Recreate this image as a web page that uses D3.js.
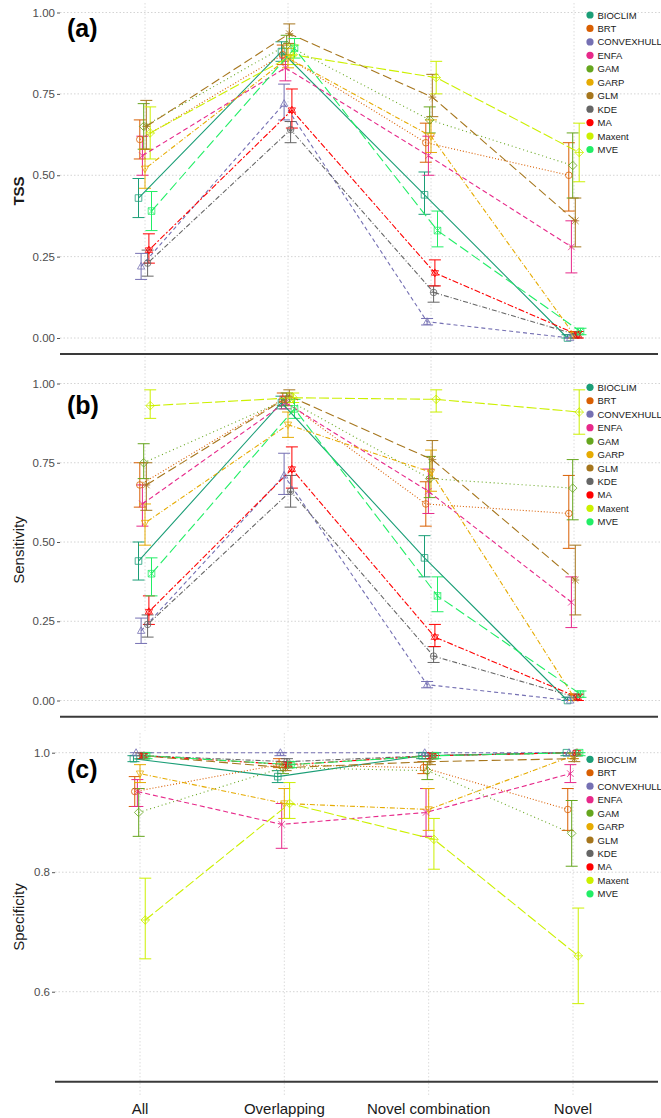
<!DOCTYPE html>
<html><head><meta charset="utf-8">
<script src="https://cdn.jsdelivr.net/npm/d3@7"></script>
<style>body{margin:0;background:#fff}svg{display:block}</style>
</head><body>
<svg id="chart" width="661" height="1118"></svg>
<script>
// ---------- data ----------
const categories = ["All", "Overlapping", "Novel combination", "Novel"];
const methods = ["BIOCLIM","BRT","CONVEXHULL","ENFA","GAM","GARP","GLM","KDE","MA","Maxent","MVE"];
const methodColors = ["#1B9E77","#D95F02","#7570B3","#E7298A","#66A61E","#E6AB02","#A6761D","#666666","#FF0000","#CCF000","#22EE66"];
const methodDash = ["", "1,2", "4,3", "5,3", "1,3", "1,2,5,2", "9,4", "1,2,5,2", "2,2,6,2", "10,3", "10,4"];
const methodShapes = ["square","circle","triangle","cross","diamond","triangleDown","asterisk","circlePlus","star","diamondPlus","squareCross"];

// TSS (rows = methods, cols = categories)
const tssMean = [
  [0.43,0.88,0.44,0.00],[0.61,0.87,0.60,0.50],[0.22,0.72,0.05,0.00],[0.56,0.83,0.56,0.28],
  [0.65,0.90,0.67,0.53],[0.52,0.86,0.62,0.01],[0.65,0.935,0.74,0.36],[0.23,0.64,0.14,0.01],
  [0.27,0.70,0.20,0.01],[0.63,0.87,0.80,0.57],[0.39,0.89,0.33,0.02]];
const tssLow = [
  [0.37,0.85,0.38,0.00],[0.55,0.84,0.54,0.39],[0.18,0.67,0.04,0.00],[0.50,0.79,0.50,0.20],
  [0.58,0.87,0.63,0.43],[0.46,0.83,0.57,0.00],[0.58,0.905,0.68,0.28],[0.19,0.60,0.11,0.00],
  [0.23,0.645,0.16,0.00],[0.55,0.84,0.75,0.48],[0.33,0.86,0.28,0.01]];
const tssHigh = [
  [0.49,0.91,0.51,0.01],[0.67,0.90,0.66,0.60],[0.26,0.78,0.06,0.01],[0.62,0.86,0.62,0.36],
  [0.72,0.93,0.71,0.63],[0.58,0.89,0.67,0.02],[0.73,0.965,0.81,0.43],[0.27,0.665,0.16,0.02],
  [0.32,0.765,0.24,0.02],[0.71,0.90,0.85,0.66],[0.45,0.92,0.39,0.03]];

// Sensitivity
const sensMean = [
  [0.44,0.94,0.45,0.00],[0.68,0.95,0.62,0.59],[0.22,0.71,0.05,0.00],[0.62,0.94,0.66,0.31],
  [0.75,0.95,0.70,0.67],[0.56,0.87,0.72,0.01],[0.68,0.96,0.76,0.38],[0.24,0.66,0.14,0.01],
  [0.28,0.73,0.20,0.01],[0.93,0.955,0.95,0.91],[0.40,0.92,0.33,0.02]];
const sensLow = [
  [0.38,0.92,0.39,0.00],[0.61,0.93,0.55,0.48],[0.18,0.65,0.04,0.00],[0.55,0.92,0.59,0.23],
  [0.70,0.93,0.64,0.57],[0.49,0.83,0.66,0.00],[0.60,0.94,0.70,0.27],[0.20,0.61,0.12,0.00],
  [0.24,0.67,0.17,0.00],[0.89,0.94,0.91,0.84],[0.33,0.89,0.28,0.01]];
const sensHigh = [
  [0.50,0.96,0.52,0.01],[0.75,0.97,0.69,0.71],[0.26,0.78,0.06,0.01],[0.68,0.96,0.73,0.39],
  [0.81,0.97,0.77,0.76],[0.62,0.91,0.79,0.02],[0.75,0.98,0.82,0.49],[0.27,0.71,0.17,0.02],
  [0.33,0.80,0.24,0.02],[0.98,0.97,0.98,0.98],[0.45,0.95,0.39,0.03]];

// Specificity
const specMean = [
  [0.99,0.96,0.995,1.00],[0.935,0.98,0.975,0.905],[1.00,1.00,1.00,1.00],[0.935,0.88,0.90,0.965],
  [0.90,0.975,0.97,0.865],[0.965,0.915,0.905,0.995],[0.995,0.975,0.985,0.99],[0.995,0.985,0.995,1.00],
  [0.995,0.98,0.995,1.00],[0.72,0.915,0.855,0.66],[0.995,0.98,0.995,1.00]];
const specLow = [
  [0.985,0.95,0.99,0.995],[0.91,0.975,0.965,0.87],[0.995,0.995,0.995,0.995],[0.91,0.84,0.86,0.95],
  [0.86,0.965,0.955,0.81],[0.95,0.89,0.87,0.99],[0.99,0.97,0.98,0.985],[0.99,0.98,0.99,0.995],
  [0.99,0.975,0.99,0.995],[0.655,0.89,0.805,0.58],[0.99,0.975,0.99,0.995]];
const specHigh = [
  [0.995,0.97,1.00,1.00],[0.96,0.99,0.985,0.94],[1.00,1.00,1.00,1.00],[0.955,0.915,0.94,0.98],
  [0.94,0.985,0.985,0.92],[0.98,0.94,0.94,1.00],[1.00,0.98,0.99,0.995],[1.00,0.99,1.00,1.00],
  [1.00,0.985,1.00,1.00],[0.79,0.95,0.89,0.74],[1.00,0.985,1.00,1.00]];

const tssTicks = [0, 0.25, 0.5, 0.75, 1];
const specTicks = [0.6, 0.8, 1.0];

// ---------- drawing ----------
const svg = d3.select("#chart");
const FONT = "'Liberation Sans', Arial, Helvetica, sans-serif";

function shapePath(type, s) {
  const p = d3.path();
  switch (type) {
    case "square": p.rect(-s, -s, 2*s, 2*s); break;
    case "circle": p.moveTo(s, 0); p.arc(0, 0, s, 0, 2*Math.PI); break;
    case "triangle": p.moveTo(0, -s*1.2); p.lineTo(s*1.1, s*0.8); p.lineTo(-s*1.1, s*0.8); p.closePath(); break;
    case "triangleDown": p.moveTo(0, s*1.2); p.lineTo(s*1.1, -s*0.8); p.lineTo(-s*1.1, -s*0.8); p.closePath(); break;
    case "cross": p.moveTo(-s,-s); p.lineTo(s,s); p.moveTo(-s,s); p.lineTo(s,-s); break;
    case "diamond": p.moveTo(0,-s*1.3); p.lineTo(s*1.3,0); p.lineTo(0,s*1.3); p.lineTo(-s*1.3,0); p.closePath(); break;
    case "asterisk": p.moveTo(-s,-s); p.lineTo(s,s); p.moveTo(-s,s); p.lineTo(s,-s); p.moveTo(0,-s*1.2); p.lineTo(0,s*1.2); p.moveTo(-s*1.2,0); p.lineTo(s*1.2,0); break;
    case "circlePlus": p.moveTo(s,0); p.arc(0,0,s,0,2*Math.PI); p.moveTo(0,-s); p.lineTo(0,s); p.moveTo(-s,0); p.lineTo(s,0); break;
    case "star": p.moveTo(0,-s*1.2); p.lineTo(s*1.1,s*0.7); p.lineTo(-s*1.1,s*0.7); p.closePath();
                 p.moveTo(0,s*1.2); p.lineTo(s*1.1,-s*0.7); p.lineTo(-s*1.1,-s*0.7); p.closePath(); break;
    case "diamondPlus": p.moveTo(0,-s*1.3); p.lineTo(s*1.3,0); p.lineTo(0,s*1.3); p.lineTo(-s*1.3,0); p.closePath();
                 p.moveTo(0,-s*1.3); p.lineTo(0,s*1.3); p.moveTo(-s*1.3,0); p.lineTo(s*1.3,0); break;
    case "squareCross": p.rect(-s,-s,2*s,2*s); p.moveTo(-s,-s); p.lineTo(s,s); p.moveTo(-s,s); p.lineTo(s,-s); break;
  }
  return p.toString();
}

const panels = [
  {mean: tssMean, low: tssLow, high: tssHigh, ticks: tssTicks, fmt: d3.format(".2f"),
   domain: [0, 1], range: [338, 12.5], xRange: [145, 574], left: 60, top: 3, bottom: 354,
   title: "TSS", titleBold: true, titleY: 191, label: "(a)", labelY: 28, legendY: 15, xLabels: false},
  {mean: sensMean, low: sensLow, high: sensHigh, ticks: tssTicks, fmt: d3.format(".2f"),
   domain: [0, 1], range: [700.5, 383.5], xRange: [145, 574], left: 60, top: 366, bottom: 716.7,
   title: "Sensitivity", titleBold: false, titleY: 550, label: "(b)", labelY: 405, legendY: 387.3, xLabels: false},
  {mean: specMean, low: specLow, high: specHigh, ticks: specTicks, fmt: d3.format(".1f"),
   domain: [0.6, 1.0], range: [991.7, 752.7], xRange: [140, 573], left: 55, top: 733, bottom: 1081.7,
   title: "Specificity", titleBold: false, titleY: 917, label: "(c)", labelY: 769, legendY: 759.3, xLabels: true}
];

panels.forEach(P => {
  const g = svg.append("g");
  const y = d3.scaleLinear().domain(P.domain).range(P.range);
  const x = d3.scalePoint().domain(categories).range(P.xRange);
  const step = x.step();
  const dodge = i => (i - (methods.length - 1) / 2) * step * 0.1 / methods.length;
  const right = 661;

  // horizontal grid
  g.append("g").selectAll("line").data(P.ticks).join("line")
    .attr("x1", P.left).attr("x2", right)
    .attr("y1", d => y(d)).attr("y2", d => y(d))
    .attr("stroke", "#d4d4d4").attr("stroke-width", 1).attr("stroke-dasharray", "1.5,2");
  // vertical grid
  g.append("g").selectAll("line").data(categories).join("line")
    .attr("x1", d => x(d)).attr("x2", d => x(d))
    .attr("y1", P.top).attr("y2", P.bottom + 14)
    .attr("stroke", "#dcdcdc").attr("stroke-width", 1).attr("stroke-dasharray", "1.5,2");

  // y axis
  const yAxis = d3.axisLeft(y).tickValues(P.ticks).tickFormat(P.fmt).tickSize(3).tickPadding(2);
  const ya = g.append("g").attr("transform", `translate(${P.left},0)`).call(yAxis);
  ya.select(".domain").remove();
  ya.selectAll(".tick line").attr("stroke", "#555");
  ya.selectAll(".tick text").attr("fill", "#4d4d4d").style("font-family", FONT).style("font-size", "11.5px");

  // bottom line
  g.append("line").attr("x1", P.left).attr("x2", 658).attr("y1", P.bottom).attr("y2", P.bottom)
    .attr("stroke", "#3a3a3a").attr("stroke-width", 2);

  // y title
  g.append("text").attr("transform", `translate(18,${P.titleY}) rotate(-90)`)
    .attr("text-anchor", "middle").attr("dominant-baseline", "central")
    .style("font-family", FONT).style("font-size", "15px")
    .style("font-weight", P.titleBold ? "bold" : "normal").attr("fill", "#1a1a1a").text(P.title);

  // panel label
  g.append("text").attr("x", 67).attr("y", P.labelY).attr("dominant-baseline", "central")
    .style("font-family", FONT).style("font-size", "25px").style("font-weight", "bold")
    .attr("fill", "#000").text(P.label);

  // series data
  const series = methods.map((m, i) => ({
    name: m, i: i, color: methodColors[i], dash: methodDash[i], shape: methodShapes[i],
    pts: categories.map((c, j) => ({c, v: P.mean[i][j], lo: P.low[i][j], hi: P.high[i][j]}))
  }));

  // error bars
  const eb = g.append("g");
  series.forEach(s => {
    const gg = eb.append("g").attr("stroke", s.color).attr("stroke-width", 1).attr("fill", "none");
    s.pts.forEach(p => {
      const cx = x(p.c) + dodge(s.i);
      gg.append("line").attr("x1", cx).attr("x2", cx).attr("y1", y(p.lo)).attr("y2", y(p.hi));
      gg.append("line").attr("x1", cx - 6).attr("x2", cx + 6).attr("y1", y(p.lo)).attr("y2", y(p.lo));
      gg.append("line").attr("x1", cx - 6).attr("x2", cx + 6).attr("y1", y(p.hi)).attr("y2", y(p.hi));
    });
  });

  // lines
  const line = d3.line().x((p, k) => p.x).y(p => y(p.v));
  const lg = g.append("g");
  series.forEach(s => {
    lg.append("path")
      .datum(s.pts.map(p => ({x: x(p.c) + dodge(s.i), v: p.v})))
      .attr("d", line).attr("fill", "none").attr("stroke", s.color)
      .attr("stroke-width", 1.1).attr("stroke-dasharray", s.dash || null);
  });

  // points
  const pg = g.append("g");
  series.forEach(s => {
    s.pts.forEach(p => {
      pg.append("path").attr("d", shapePath(s.shape, 3.3))
        .attr("transform", `translate(${x(p.c) + dodge(s.i)},${y(p.v)})`)
        .attr("fill", "none").attr("stroke", s.color).attr("stroke-width", 0.8);
    });
  });

  // legend
  const leg = g.append("g");
  methods.forEach((m, i) => {
    const ly = P.legendY + i * 13.45;
    leg.append("circle").attr("cx", 590).attr("cy", ly).attr("r", 3.6).attr("fill", methodColors[i]);
    leg.append("text").attr("x", 597.5).attr("y", ly).attr("dominant-baseline", "central")
      .style("font-family", FONT).style("font-size", "9.5px").attr("fill", "#1a1a1a").text(m);
  });

  // x labels
  if (P.xLabels) {
    g.append("g").selectAll("text").data(categories).join("text")
      .attr("x", d => x(d)).attr("y", 1108).attr("text-anchor", "middle").attr("dominant-baseline", "central")
      .style("font-family", FONT).style("font-size", "15px").attr("fill", "#1a1a1a").text(d => d);
  }
});
</script>
</body></html>
